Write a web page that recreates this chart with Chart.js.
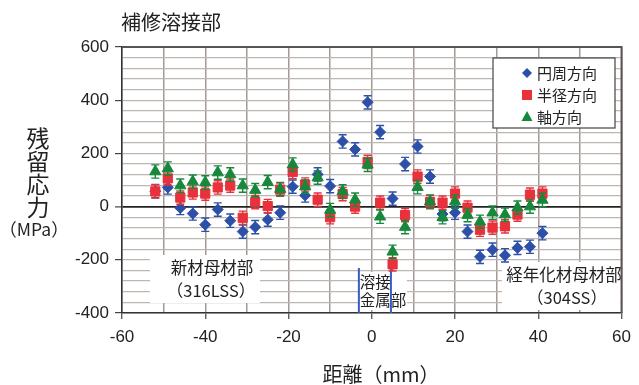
<!DOCTYPE html>
<html>
<head>
<meta charset="utf-8">
<script src="https://cdn.jsdelivr.net/npm/chart.js@4.4.0/dist/chart.umd.min.js"></script>
<style>
  html, body { margin: 0; padding: 0; background: #ffffff; }
  #wrap { width: 639px; height: 385px; position: relative; }
</style>
</head>
<body>
<div id="wrap"><canvas id="c" width="639" height="385"></canvas></div>
<script>
// Measurement positions across the repair weld (mm)
const positions = [-52, -49, -46, -43, -40, -37, -34, -31, -28, -25, -22, -19, -16, -13, -10, -7,
                   -4, -1, 2, 5, 8, 11, 14, 17, 20, 23, 26, 29, 32, 35, 38, 41];

// Residual stress (MPa) by direction
const hoopStress   = [58, 72, -5, -26, -68, -11, -53, -94, -77, -49, -23, 75, 42, 121, 77, 245,
                      215, 392, 280, 30, 160, 226, 113, -28, -23, -94, -189, -162, -183, -155, -151, -100];
const radialStress = [57, 106, 34, 53, 49, 72, 79, -42, 17, 2, 64, 130, 83, 26, -40, 47,
                      0, 168, 15, -217, -32, 113, 17, 15, 49, -4, -87, -79, -74, -30, 45, 49];
const axialStress  = [132, 143, 79, 94, 91, 128, 121, 79, 62, 92, 66, 158, 75, 109, -13, 57,
                      26, 157, -38, -170, -77, 73, 19, -40, 19, -32, -57, -23, -30, -4, 0, 25];

// Measurement uncertainty (± MPa)
const hoopErr   = [25, 25, 25, 25, 25, 25, 25, 25, 25, 25, 25, 25, 25, 25, 25, 25,
                   25, 25, 25, 25, 25, 25, 25, 25, 25, 25, 25, 25, 25, 25, 25, 25];
const radialErr = [25, 25, 25, 25, 25, 25, 25, 25, 25, 25, 25, 25, 25, 25, 25, 25,
                   25, 25, 25, 25, 25, 25, 25, 25, 25, 25, 25, 25, 25, 25, 25, 25];
const axialErr  = [25, 25, 25, 25, 25, 25, 25, 25, 25, 25, 25, 25, 25, 25, 25, 25,
                   25, 25, 25, 25, 25, 25, 25, 25, 25, 25, 25, 25, 25, 25, 25, 25];

const seriesNames = ['円周方向', '半径方向', '軸方向'];
const xLabelTicks = [-60, -40, -20, 0, 20, 40, 60];
const yLabelTicks = [-400, -200, 0, 200, 400, 600];

// Weld metal zone boundaries (mm)
const weldZone = [-3.1, 4.6];

const BLUE = '#2c4fa8', RED = '#e8313b', GREEN = '#17883b';
const NUM_FONT = '"Liberation Sans", "Noto Sans CJK JP", sans-serif';
const JP_FONT = '"Noto Sans CJK JP", sans-serif';

const toPoints = (vals) => positions.map((p, i) => ({ x: p, y: vals[i] }));

// Vertical error bars, drawn just before each dataset's markers
const errorBars = {
  id: 'errorBars',
  beforeDatasetDraw(chart, args) {
    const ds = chart.data.datasets[args.index];
    const { ctx, scales: { x, y } } = chart;
    ctx.save();
    ctx.strokeStyle = ds.borderColor;
    ctx.lineWidth = 1.4;
    ds.data.forEach((p, i) => {
      if (p.y == null) return;
      const e = ds.errors[i];
      const px = x.getPixelForValue(p.x);
      const t = y.getPixelForValue(p.y + e);
      const b = y.getPixelForValue(p.y - e);
      ctx.beginPath();
      ctx.moveTo(px, t); ctx.lineTo(px, b);
      ctx.moveTo(px - 4, t); ctx.lineTo(px + 4, t);
      ctx.moveTo(px - 4, b); ctx.lineTo(px + 4, b);
      ctx.stroke();
    });
    ctx.restore();
  }
};

// Region labels inside the plot
const regionLabels = {
  id: 'regionLabels',
  beforeDatasetsDraw(chart) {
    const { ctx, chartArea: a, scales: { x, y } } = chart;
    ctx.save();
    // 新材母材部 box
    ctx.fillStyle = '#ffffff';
    ctx.fillRect(150, 255, 110, 48);
    // 経年化材母材部 box
    ctx.fillRect(502, 262, a.right - 503, 48);
    // weld metal label background
    ctx.fillRect(x.getPixelForValue(weldZone[0]) + 1, 272, 47, 38);

    ctx.fillStyle = '#222';
    ctx.textAlign = 'center';
    ctx.textBaseline = 'middle';
    ctx.font = '16.5px ' + JP_FONT;
    ctx.fillText('新材母材部', 212, 268);
    ctx.fillText('（316LSS）', 211, 291);
    ctx.fillText('経年化材母材部', 564, 275);
    ctx.fillText('（304SS）', 567, 298);

    ctx.textAlign = 'left';
    ctx.font = '15.5px ' + JP_FONT;
    const wl = x.getPixelForValue(weldZone[0]);
    ctx.fillText('溶接', wl + 1, 282);
    ctx.fillText('金属部', wl + 1, 300);

    // weld zone boundary lines
    ctx.strokeStyle = '#3a5bc0';
    ctx.lineWidth = 2;
    weldZone.forEach(v => {
      const px = x.getPixelForValue(v);
      ctx.beginPath();
      ctx.moveTo(px, 268);
      ctx.lineTo(px, a.bottom);
      ctx.stroke();
    });
    ctx.restore();
  }
};

// Frame, titles and legend box
const decorations = {
  id: 'decorations',
  afterDraw(chart) {
    const { ctx, chartArea: a } = chart;
    ctx.save();
    ctx.strokeStyle = '#5a5552';
    ctx.lineWidth = 2;
    ctx.beginPath();
    ctx.moveTo(a.left, a.top); ctx.lineTo(a.right, a.top); ctx.lineTo(a.right, a.bottom);
    ctx.stroke();

    ctx.fillStyle = '#222';
    ctx.textBaseline = 'middle';
    // chart title
    ctx.textAlign = 'left';
    ctx.font = '20px ' + JP_FONT;
    ctx.fillText('補修溶接部', 121, 22);

    // y-axis title, stacked
    ctx.textAlign = 'center';
    ctx.font = '23px ' + JP_FONT;
    ['残', '留', '応', '力'].forEach((ch, i) => ctx.fillText(ch, 38, 138 + i * 23));
    ctx.font = '17.5px ' + JP_FONT;
    ctx.fillText('（MPa）', 34, 229);

    // x-axis title
    ctx.font = '20px ' + JP_FONT;
    ctx.fillText('距離（mm）', 381, 374);

    // legend
    const lx = 493, ly = 58, lw = 122, lh = 70;
    ctx.fillStyle = '#ffffff';
    ctx.fillRect(lx, ly, lw, lh);
    ctx.strokeStyle = '#444';
    ctx.lineWidth = 1.2;
    ctx.strokeRect(lx, ly, lw, lh);
    const rows = [73, 95, 117];
    const mx = 527;
    // diamond
    ctx.fillStyle = BLUE;
    ctx.beginPath();
    ctx.moveTo(mx, rows[0] - 5); ctx.lineTo(mx + 5, rows[0]); ctx.lineTo(mx, rows[0] + 5); ctx.lineTo(mx - 5, rows[0]);
    ctx.closePath(); ctx.fill();
    // square
    ctx.fillStyle = RED;
    ctx.fillRect(mx - 5, rows[1] - 5, 10, 10);
    // triangle
    ctx.fillStyle = GREEN;
    ctx.beginPath();
    ctx.moveTo(mx, rows[2] - 6); ctx.lineTo(mx + 5.5, rows[2] + 4); ctx.lineTo(mx - 5.5, rows[2] + 4);
    ctx.closePath(); ctx.fill();

    ctx.fillStyle = '#222';
    ctx.textAlign = 'left';
    ctx.font = '15px ' + JP_FONT;
    seriesNames.forEach((n, i) => ctx.fillText(n, 537, rows[i]));
    ctx.restore();
  }
};

new Chart(document.getElementById('c'), {
  type: 'scatter',
  data: {
    datasets: [
      { label: seriesNames[0], data: toPoints(hoopStress), errors: hoopErr, order: 3,
        pointStyle: 'rectRot', pointRadius: 5.5, backgroundColor: BLUE, borderColor: BLUE, borderWidth: 1 },
      { label: seriesNames[1], data: toPoints(radialStress), errors: radialErr, order: 2,
        pointStyle: 'rect', pointRadius: 6.5, backgroundColor: RED, borderColor: RED, borderWidth: 1 },
      { label: seriesNames[2], data: toPoints(axialStress), errors: axialErr, order: 1,
        pointStyle: 'triangle', pointRadius: 6.5, backgroundColor: GREEN, borderColor: GREEN, borderWidth: 1 }
    ]
  },
  options: {
    responsive: false,
    animation: false,
    layout: { padding: { left: 0, top: 47, right: 12, bottom: 0 } },
    plugins: { legend: { display: false }, tooltip: { enabled: false } },
    scales: {
      x: {
        type: 'linear', min: -60, max: 60,
        afterFit(s) { s.height = 72; },
        ticks: {
          stepSize: 10, autoSkip: false, maxRotation: 0, padding: 8, color: '#222',
          font: { family: NUM_FONT, size: 17 },
          callback: v => xLabelTicks.includes(v) ? String(v) : ''
        },
        grid: {
          color: '#a39a95', lineWidth: 1.5, tickLength: 6, tickWidth: 1.2,
          tickColor: c => (c.tick && xLabelTicks.includes(c.tick.value)) ? '#444' : 'rgba(0,0,0,0)'
        },
        border: { color: '#333', width: 1.5 }
      },
      y: {
        min: -400, max: 600,
        afterFit(s) { s.width = 122; },
        ticks: {
          stepSize: 40, autoSkip: false, padding: 6, color: '#222',
          font: { family: NUM_FONT, size: 17 },
          callback: v => yLabelTicks.includes(v) ? String(v) : ''
        },
        grid: {
          color: c => (c.tick && c.tick.value === 0) ? '#222' : '#bcb7b3',
          lineWidth: c => (c.tick && c.tick.value === 0) ? 1.8 : 1.2,
          tickLength: 7, tickWidth: 1.2,
          tickColor: c => (c.tick && yLabelTicks.includes(c.tick.value)) ? '#444' : 'rgba(0,0,0,0)'
        },
        border: { color: '#333', width: 1.5 }
      }
    }
  },
  plugins: [errorBars, regionLabels, decorations]
});
</script>
</body>
</html>
